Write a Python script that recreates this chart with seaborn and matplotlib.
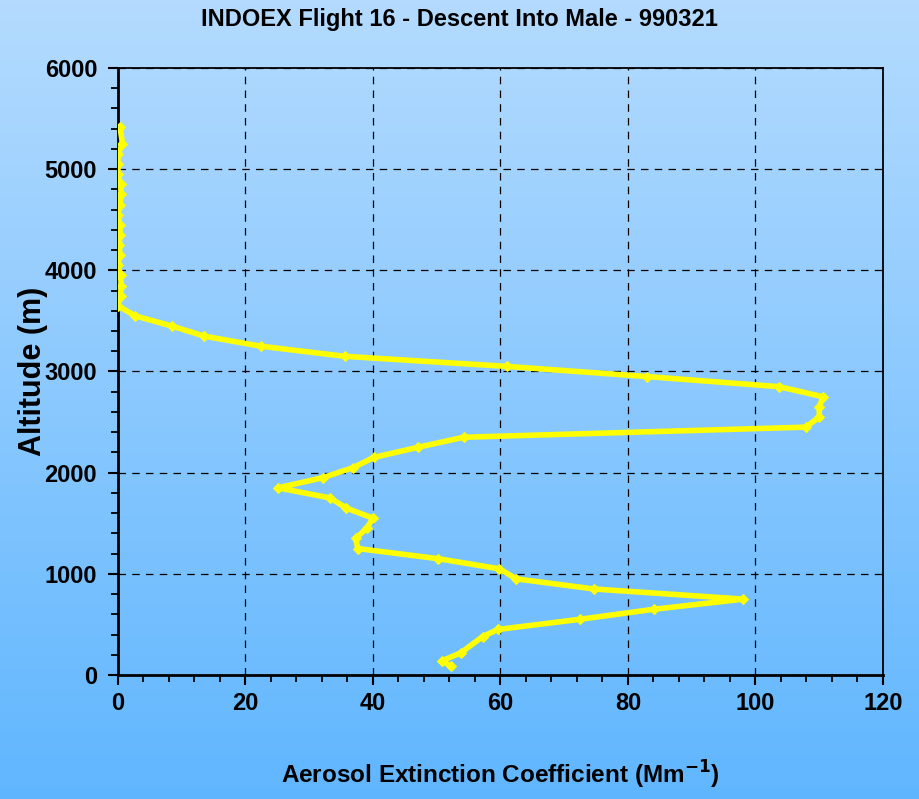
import matplotlib
matplotlib.use('Agg')
import matplotlib.pyplot as plt
import numpy as np
import pandas as pd
import seaborn as sns
from matplotlib.colors import LinearSegmentedColormap
from matplotlib.ticker import MultipleLocator

# ---- dados ----
extincao = [0.3, 0.7, 0.0, 0.0, 0.0, 0.4, 0.5, 0.3, 0.0, 0.3, 0.3, 0.2, 0.3, 0.0,
            0.4, 0.5, 0.4, 0.0, 2.7, 8.4, 13.5, 22.4, 35.6, 61.1, 83.0, 103.7,
            110.6, 110.0, 110.0, 107.9, 54.2, 47.0, 40.1, 36.9, 32.1, 25.1, 33.3,
            35.8, 40.0, 39.0, 37.3, 37.6, 50.2, 59.8, 62.5, 74.7, 98.1, 84.1,
            72.4, 59.6, 57.2, 53.8, 50.8, 52.2]
altitude = [5420, 5250, 5150, 5050, 4950, 4850, 4750, 4650, 4550, 4450, 4350, 4250,
            4150, 4050, 3950, 3850, 3750, 3650, 3550, 3450, 3350, 3250, 3150, 3050,
            2950, 2850, 2750, 2650, 2550, 2450, 2350, 2250, 2150, 2050, 1950, 1850,
            1750, 1650, 1550, 1450, 1350, 1250, 1150, 1050, 950, 850, 750, 650,
            550, 450, 380, 220, 140, 90]

df = pd.DataFrame({'ext': extincao, 'alt': altitude})

plt.rcParams['font.family'] = ['Liberation Sans', 'DejaVu Sans']
plt.rcParams['font.weight'] = 'bold'

fig = plt.figure(figsize=(9.19, 7.99), dpi=100)

# ---- fundo em degrade ----
bg = fig.add_axes([0, 0, 1, 1], zorder=0)
cmap = LinearSegmentedColormap.from_list('fundo', ['#b4dbfe', '#60b6fe'])
bg.imshow(np.linspace(0, 1, 256).reshape(-1, 1), aspect='auto', cmap=cmap,
          extent=[0, 1, 0, 1])
bg.axis('off')

ax = fig.add_axes([0.1284, 0.1552, 0.8324, 0.7597], zorder=1)
ax.set_facecolor('none')

sns.lineplot(data=df, x='ext', y='alt', sort=False, estimator=None, ax=ax,
             color='#ffff00', linewidth=4, marker='D', markersize=5,
             markeredgecolor='#ffff00', zorder=3)

ax.set_xlim(0, 120)
ax.set_ylim(0, 6000)
ax.xaxis.set_major_locator(MultipleLocator(20))
ax.xaxis.set_minor_locator(MultipleLocator(4))
ax.yaxis.set_major_locator(MultipleLocator(1000))
ax.yaxis.set_minor_locator(MultipleLocator(200))
ax.grid(True, which='major', color='black', linestyle=(0, (6, 5)), linewidth=0.9)
ax.set_axisbelow(True)

for lado in ['left', 'bottom']:
    ax.spines[lado].set_linewidth(2)
for lado in ['top', 'right']:
    ax.spines[lado].set_linewidth(1.3)
ax.tick_params(which='major', direction='out', length=7, width=1.5, labelsize=17)
ax.tick_params(axis='x', which='major', pad=5)
ax.tick_params(axis='y', which='major', pad=8)
ax.tick_params(which='minor', direction='out', length=5, width=1.3)
for lb in ax.get_xticklabels() + ax.get_yticklabels():
    lb.set_fontweight('bold')

ax.set_xlabel('Aerosol Extinction Coefficient (Mm$^{\\mathbf{-1}}$)', fontsize=17.5,
              fontweight='bold', labelpad=32)
ax.set_ylabel('Altitude (m)', fontsize=22, fontweight='bold')
ax.yaxis.set_label_coords(-0.092, 0.5)
fig.suptitle('INDOEX Flight 16 - Descent Into Male - 990321', fontsize=17,
             fontweight='bold', y=0.99)

plt.savefig('out.png', dpi=100)
